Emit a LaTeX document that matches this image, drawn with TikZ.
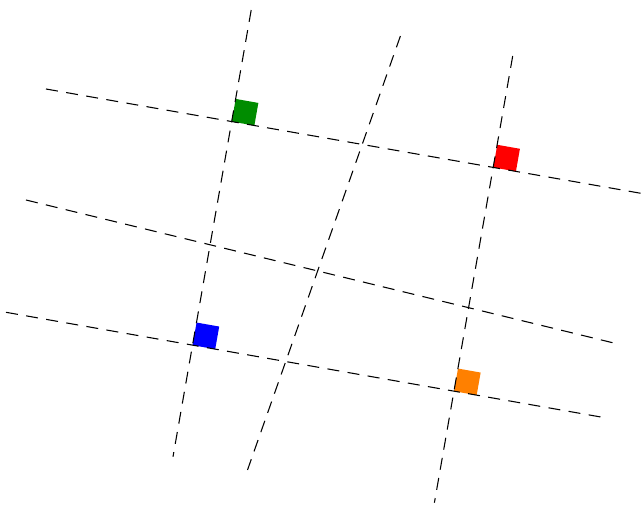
\documentclass[tikz,border=0pt]{standalone}
\begin{document}
\begin{tikzpicture}[x=0.75pt,y=-0.75pt,
  gridline/.style={black,line width=0.8pt,dash pattern=on 9pt off 6.3pt}]
\useasboundingbox (0,0) rectangle (642,505);
% end points of the lines
\coordinate (h1a) at (46,89);   \coordinate (h1b) at (642,193.5);
\coordinate (h2a) at (26,200);  \coordinate (h2b) at (615,343.3);
\coordinate (h3a) at (6,312.3); \coordinate (h3b) at (602.5,417.3);
\coordinate (v1a) at (251.2,10);  \coordinate (v1b) at (173,456.7);
\coordinate (v2a) at (400.4,36);  \coordinate (v2b) at (247.5,470);
\coordinate (v3a) at (512.7,56);  \coordinate (v3b) at (434.4,502.7);
% corners of the squares
\coordinate (cg) at (intersection of h1a--h1b and v1a--v1b);
\coordinate (cr) at (intersection of h1a--h1b and v3a--v3b);
\coordinate (cb) at (intersection of h3a--h3b and v1a--v1b);
\coordinate (co) at (intersection of h3a--h3b and v3a--v3b);
\fill[green!55!black,rotate around={-10:(cg)}] (cg) rectangle ++(23,-23);
\fill[red,rotate around={-10:(cr)}] (cr) rectangle ++(23,-23);
\fill[blue,rotate around={-10:(cb)}] (cb) rectangle ++(23,-23);
\fill[orange,rotate around={-10:(co)}] (co) rectangle ++(23,-23);
% lines
\draw[gridline] (h1a) -- (h1b);
\draw[gridline] (h2a) -- (h2b);
\draw[gridline] (h3a) -- (h3b);
\draw[gridline] (v1a) -- (v1b);
\draw[gridline] (v2a) -- (v2b);
\draw[gridline] (v3a) -- (v3b);
\end{tikzpicture}
\end{document}
